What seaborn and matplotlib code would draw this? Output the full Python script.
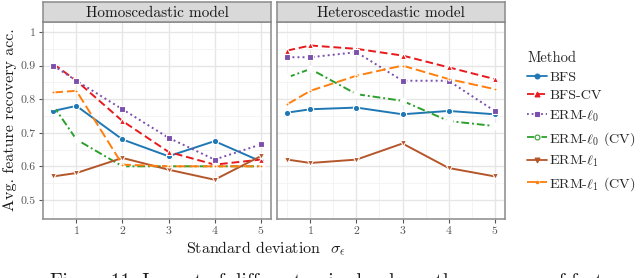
import numpy as np
import pandas as pd
import matplotlib
matplotlib.use("Agg")
import matplotlib.pyplot as plt
import seaborn as sns
from matplotlib.lines import Line2D

# ---------------- data ----------------
sigma = [0.5, 1, 2, 3, 4, 5]
methods = ["BFS", "BFS-CV", r"ERM-$\ell_0$", r"ERM-$\ell_0$ (CV)", r"ERM-$\ell_1$", r"ERM-$\ell_1$ (CV)"]
panels = ["Homoscedastic model", "Heteroscedastic model"]

homo_bfs = [0.765, 0.78, 0.68, 0.63, 0.675, 0.615]
homo_bfs_cv = [0.905, 0.855, 0.735, 0.643, 0.605, 0.62]
homo_erm_l0 = [0.90, 0.855, 0.77, 0.685, 0.62, 0.665]
homo_erm_l0_cv = [0.78, 0.68, 0.60, 0.60, 0.60, 0.60]
homo_erm_l1 = [0.57, 0.58, 0.625, 0.59, 0.56, 0.63]
homo_erm_l1_cv = [0.82, 0.825, 0.605, 0.60, 0.60, 0.60]

hetero_bfs = [0.76, 0.77, 0.775, 0.755, 0.765, 0.755]
hetero_bfs_cv = [0.945, 0.96, 0.95, 0.93, 0.895, 0.86]
hetero_erm_l0 = [0.925, 0.925, 0.94, 0.855, 0.855, 0.765]
hetero_erm_l0_cv = [0.865, 0.89, 0.815, 0.795, 0.735, 0.72]
hetero_erm_l1 = [0.62, 0.61, 0.62, 0.668, 0.595, 0.57]
hetero_erm_l1_cv = [0.785, 0.825, 0.87, 0.90, 0.86, 0.83]

y_ticks = [0.5, 0.6, 0.7, 0.8, 0.9, 1.0]
y_ticklabels = ["0.5", "0.6", "0.7", "0.8", "0.9", "1"]
x_ticks = [1, 2, 3, 4, 5]
x_ticklabels = ["1", "2", "3", "4", "5"]

series = {
    panels[0]: [homo_bfs, homo_bfs_cv, homo_erm_l0, homo_erm_l0_cv, homo_erm_l1, homo_erm_l1_cv],
    panels[1]: [hetero_bfs, hetero_bfs_cv, hetero_erm_l0, hetero_erm_l0_cv, hetero_erm_l1, hetero_erm_l1_cv],
}
rows = []
for p, lists in series.items():
    for m, vals in zip(methods, lists):
        for s, v in zip(sigma, vals):
            rows.append({"panel": p, "Method": m, "sigma": s, "acc": v})
df = pd.DataFrame(rows)

# ---------------- styles ----------------
palette = {
    methods[0]: "#1f77b4",
    methods[1]: "#e8191c",
    methods[2]: "#7b4fad",
    methods[3]: "#2ca02c",
    methods[4]: "#b5562a",
    methods[5]: "#ff7f0e",
}
dashes = {
    methods[0]: "",
    methods[1]: (4, 2),
    methods[2]: (1, 1.6),
    methods[3]: (4, 1.5, 1, 1.5),
    methods[4]: "",
    methods[5]: (5, 2),
}
markers = {
    methods[0]: "o",
    methods[1]: "^",
    methods[2]: "s",
    methods[3]: "o",
    methods[4]: "v",
    methods[5]: ".",
}

sns.set_theme(style="white")
plt.rcParams["font.family"] = ["cmr10", "DejaVu Serif"]
plt.rcParams["mathtext.fontset"] = "cm"
plt.rcParams["axes.formatter.use_mathtext"] = True
plt.rcParams["axes.unicode_minus"] = False

W, H = 640, 278
fig = plt.figure(figsize=(W / 100, H / 100), dpi=100)

def fx(px):
    return px / W

def fy(py):
    return 1 - py / H

ax_top, ax_bot = 22, 219
lefts = [43, 277]
pw = 228
border = "#8a8a8a"
tickcol = "#555555"

axes = []
for i, p in enumerate(panels):
    ax = fig.add_axes([fx(lefts[i]), fy(ax_bot), fx(pw), (ax_bot - ax_top) / H])
    sub = df[df.panel == p]
    sns.lineplot(data=sub, x="sigma", y="acc", hue="Method", style="Method",
                 palette=palette, dashes=dashes, markers=markers,
                 hue_order=methods, style_order=methods,
                 markersize=4.5, linewidth=1.4, markeredgewidth=0.8,
                 legend=False, ax=ax)
    ax.set_xlim(0.275, 5.225)
    ax.set_ylim(0.443, 1.03)
    ax.set_xticks(x_ticks)
    ax.set_xticklabels(x_ticklabels)
    ax.set_xticks([0.5, 1.5, 2.5, 3.5, 4.5], minor=True)
    ax.set_yticks(y_ticks)
    if i == 0:
        ax.set_yticklabels(y_ticklabels)
    else:
        ax.set_yticklabels([])
    ax.set_yticks([0.55, 0.65, 0.75, 0.85, 0.95], minor=True)
    ax.grid(True, which="major", color="#e6e6e6", linewidth=1.0)
    ax.grid(True, which="minor", color="#f2f2f2", linewidth=0.6)
    ax.set_axisbelow(True)
    for sp in ax.spines.values():
        sp.set_color(border)
        sp.set_linewidth(1.1)
    ax.tick_params(axis="both", which="major", length=3, width=0.8, color=tickcol,
                   labelcolor=tickcol, labelsize=8.5, pad=2.5, bottom=True, left=(i == 0))
    ax.tick_params(axis="both", which="minor", length=0)
    ax.set_xlabel("")
    ax.set_ylabel("")
    axes.append(ax)

    # strip
    sax = fig.add_axes([fx(lefts[i]), fy(ax_top), fx(pw), 20 / H])
    sax.set_facecolor("#d9d9d9")
    sax.set_xticks([])
    sax.set_yticks([])
    for sp in sax.spines.values():
        sp.set_color(border)
        sp.set_linewidth(1.1)
    sax.text(0.5, 0.45, p, ha="center", va="center", fontsize=11, color="#1a1a1a",
             transform=sax.transAxes)

# make ERM-l0 (CV) markers hollow
for ax in axes:
    for ln in ax.get_lines():
        if matplotlib.colors.to_hex(ln.get_color()) == palette[methods[3]]:
            ln.set_markerfacecolor("white")

fig.text(fx(266), fy(248), r"Standard deviation  $\sigma_\epsilon$", ha="center", va="center",
         fontsize=11.5, color="#1a1a1a")
fig.text(fx(10), fy(120), "Avg. feature recovery acc.", rotation=90, ha="center", va="center",
         fontsize=11.5, color="#1a1a1a")

# legend
handles = []
for m in methods:
    d = dashes[m]
    h = Line2D([0], [0], color=palette[m], marker=markers[m], markersize=3.5,
               linewidth=1.3, markeredgewidth=0.8,
               markerfacecolor="white" if m == methods[3] else palette[m])
    if d != "":
        h.set_dashes(d)
    handles.append(h)
leg = fig.legend(handles, methods, title="Method", loc="upper left",
                 bbox_to_anchor=(fx(527), fy(51)), frameon=False, fontsize=10.2,
                 title_fontsize=10.5, handlelength=1.4, handletextpad=0.15,
                 labelspacing=0.42, borderaxespad=0, borderpad=0)
leg._legend_box.align = "left"

fig.text(fx(50), fy(273), "Figure 11: Impact of different noise levels on the accuracy of feature",
         ha="left", va="top", fontsize=14, color="#1a1a1a")

fig.savefig("out.png", dpi=100)
